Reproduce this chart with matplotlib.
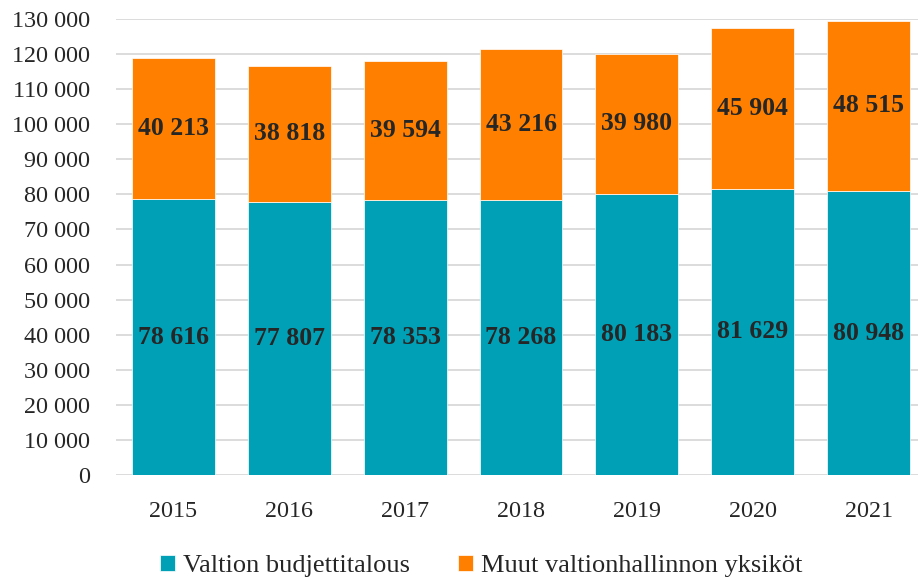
import matplotlib
matplotlib.use("Agg")
import matplotlib.pyplot as plt
import numpy as np

years = ["2015", "2016", "2017", "2018", "2019", "2020", "2021"]
budjetti = [78616, 77807, 78353, 78268, 80183, 81629, 80948]
muut = [40213, 38818, 39594, 43216, 39980, 45904, 48515]
series_names = ["Valtion budjettitalous", "Muut valtionhallinnon yksiköt"]
yticks = list(range(0, 130001, 10000))

TEAL = "#00A0B6"
ORANGE = "#FF8000"
TXT = "#262626"

plt.rcParams["font.family"] = ["Liberation Serif", "DejaVu Serif"]

fig = plt.figure(figsize=(9.18, 5.80), dpi=100)
W, H = 918, 580
left, right, top, bottom = 115.5, 926.5, 19, 475
ax = fig.add_axes([left / W, 1 - bottom / H, (right - left) / W, (bottom - top) / H])

x = np.arange(len(years))
bw = 0.716
b1 = ax.bar(x, budjetti, bw, color=TEAL, edgecolor="white", linewidth=0.5,
            label=series_names[0], zorder=3)
b2 = ax.bar(x, muut, bw, bottom=budjetti, color=ORANGE, edgecolor="white",
            linewidth=0.5, label=series_names[1], zorder=3)

def fmt(v):
    return f"{v:,}".replace(",", " ")

for i in range(len(years)):
    ax.text(x[i], budjetti[i] / 2, fmt(budjetti[i]), ha="center", va="center",
            fontsize=18.5, fontweight="bold", color=TXT, zorder=4)
    ax.text(x[i], budjetti[i] + muut[i] / 2, fmt(muut[i]), ha="center", va="center",
            fontsize=18.5, fontweight="bold", color=TXT, zorder=4)

ax.set_xlim(-0.5, len(years) - 0.5)
ax.set_ylim(0, 130000)
ax.set_yticks(yticks)
ax.set_yticklabels([fmt(v) for v in yticks])
ax.set_xticks(x)
ax.set_xticklabels(years)
ax.tick_params(axis="both", length=0, labelsize=17.4, colors=TXT)
ax.tick_params(axis="y", pad=18)
ax.tick_params(axis="x", pad=19)
for s in ax.spines.values():
    s.set_visible(False)
ax.yaxis.grid(True, color="#D9D9D9", linewidth=1.3, zorder=0)
ax.set_axisbelow(True)

leg = fig.legend(loc="center", bbox_to_anchor=(481 / W, 1 - 566 / H), ncol=2,
                 frameon=False, fontsize=19, handlelength=0.58, handleheight=0.58,
                 handletextpad=0.3, columnspacing=1.8)
for t in leg.get_texts():
    t.set_color(TXT)

fig.savefig("out.png", dpi=100)
